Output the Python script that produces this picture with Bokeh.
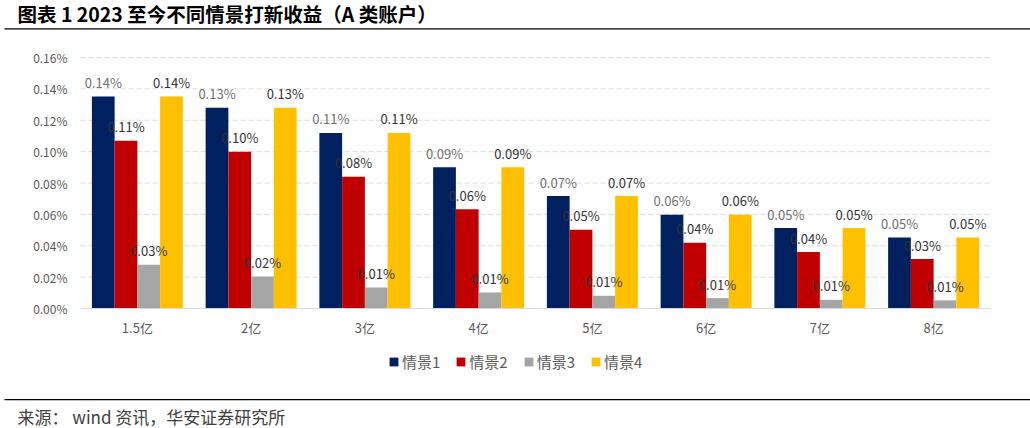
from bokeh.plotting import figure
from bokeh.models import (ColumnDataSource, Range1d, FixedTicker,
                          PrintfTickFormatter, LabelSet, Legend, LegendItem,
                          Label, BoxAnnotation)
from bokeh.embed import file_html
from bokeh.resources import INLINE
from bokeh.core.properties import value

# ---------------- data (values in %) ----------------
categories = ["1.5亿", "2亿", "3亿", "4亿", "5亿", "6亿", "7亿", "8亿"]
series_names = ["情景1", "情景2", "情景3", "情景4"]
s1 = [0.1352, 0.1279, 0.1119, 0.0900, 0.0717, 0.0598, 0.0513, 0.0452]
s2 = [0.1070, 0.1000, 0.0840, 0.0632, 0.0502, 0.0419, 0.0360, 0.0315]
s3 = [0.0279, 0.0204, 0.0134, 0.0102, 0.0081, 0.0066, 0.0055, 0.0052]
s4 = [0.1352, 0.1279, 0.1119, 0.0900, 0.0717, 0.0598, 0.0513, 0.0452]
y_ticks = [0.00, 0.02, 0.04, 0.06, 0.08, 0.10, 0.12, 0.14, 0.16]

title_text = "图表 1 2023 至今不同情景打新收益（A 类账户）"
source_text = "来源：  wind 资讯，华安证券研究所"

# ---------------- style / layout ----------------
colors = ["#002060", "#C00000", "#A5A5A5", "#FFC000"]
label_colors = ["#6f6f6f", "#333333", "#333333", "#333333"]
FONT = "Noto Sans CJK SC"
W, H = 1030, 428
PL, PR, PT, PB = 80, 990, 57, 308      # plot-area pixel box
n = len(categories)
ymax = y_ticks[-1]
upx = (PR - PL) / n                    # px per category
vpx = (PB - PT) / ymax                 # px per value unit
x_start, x_end = -PL / upx, n + (W - PR) / upx
y_start, y_end = -(H - PB) / vpx, ymax + PT / vpx

centers = [i + 0.5 for i in range(n)]
bw = 0.2
series = [s1, s2, s3, s4]
data = {"xc": centers}
for i, s in enumerate(series):
    data[f"x{i}"] = [c - 0.3 + bw * i for c in centers]
    data[f"s{i}"] = s
    data[f"l{i}"] = [f"{v:.2f}%" for v in s]
src = ColumnDataSource(data)

p = figure(width=W, height=H, x_range=Range1d(x_start, x_end),
           y_range=Range1d(y_start, y_end),
           output_backend="svg", toolbar_location=None, min_border=0)
p.title.visible = False
p.outline_line_color = None
p.xgrid.grid_line_color = None
p.ygrid.grid_line_color = None

# y axis
p.yaxis.fixed_location = 0
p.yaxis.bounds = (0, ymax)
p.yaxis.ticker = FixedTicker(ticks=y_ticks)
p.yaxis.formatter = PrintfTickFormatter(format="%.2f%%")
p.yaxis.axis_line_color = None
p.yaxis.major_tick_line_color = None
p.yaxis.minor_tick_line_color = None
p.yaxis.major_tick_out = 0
p.yaxis.major_tick_in = 0
p.yaxis.major_label_standoff = 13
p.yaxis.major_label_text_font = FONT
p.yaxis.major_label_text_font_size = "12px"
p.yaxis.major_label_text_color = "#595959"

# x axis (categories)
p.xaxis.fixed_location = 0
p.xaxis.bounds = (0, n)
p.xaxis.ticker = FixedTicker(ticks=centers)
p.xaxis.major_label_overrides = {c: lab for c, lab in zip(centers, categories)}
p.xaxis.axis_line_color = "#d9d9d9"
p.xaxis.axis_line_width = 1
p.xaxis.major_tick_line_color = None
p.xaxis.minor_tick_line_color = None
p.xaxis.major_tick_out = 0
p.xaxis.major_tick_in = 0
p.xaxis.major_label_standoff = 9
p.xaxis.major_label_text_font = FONT
p.xaxis.major_label_text_font_size = "13px"
p.xaxis.major_label_text_color = "#595959"

# dashed grid lines at the y ticks, across the plot area only
p.segment(x0=0, x1=n, y0=y_ticks[1:], y1=y_ticks[1:], line_color="#d9d9d9",
          line_width=1, line_dash="5 3")

renderers = []
for i in range(4):
    r = p.vbar(x=f"x{i}", top=f"s{i}", width=bw, source=src,
               fill_color=colors[i], line_color=None)
    renderers.append(r)
    p.add_layout(LabelSet(x=f"x{i}", y=f"s{i}", text=f"l{i}", source=src,
                          text_align="center", text_baseline="middle",
                          y_offset=14, text_font=value(FONT),
                          text_font_size="13px", text_color=label_colors[i]))

legend = Legend(items=[LegendItem(label=series_names[i], renderers=[renderers[i]])
                       for i in range(4)],
                orientation="horizontal", location=(388, 56),
                glyph_width=11, glyph_height=11, label_standoff=3, spacing=15,
                padding=0, margin=0, border_line_color=None,
                background_fill_alpha=0, label_text_font=FONT,
                label_text_font_size="15px", label_text_color="#595959")
p.add_layout(legend, "center")

# title, rules, source
p.add_layout(Label(x=17, y=12.5, x_units="canvas", y_units="canvas",
                   text=title_text, text_baseline="middle", text_font=FONT,
                   text_font_size="19.5px", text_font_style="bold",
                   text_color="black"))
for top in (27.8, 398.4):
    p.add_layout(BoxAnnotation(left=4, right=W, top=top, bottom=top + 1.3,
                               left_units="canvas", right_units="canvas",
                               top_units="canvas", bottom_units="canvas",
                               fill_color="black", fill_alpha=1,
                               line_color=None))
p.add_layout(Label(x=17, y=415.5, x_units="canvas", y_units="canvas",
                   text=source_text, text_baseline="middle", text_font=FONT,
                   text_font_size="17px", text_color="#404040"))

open("out.html", "w").write(file_html(p, INLINE))
